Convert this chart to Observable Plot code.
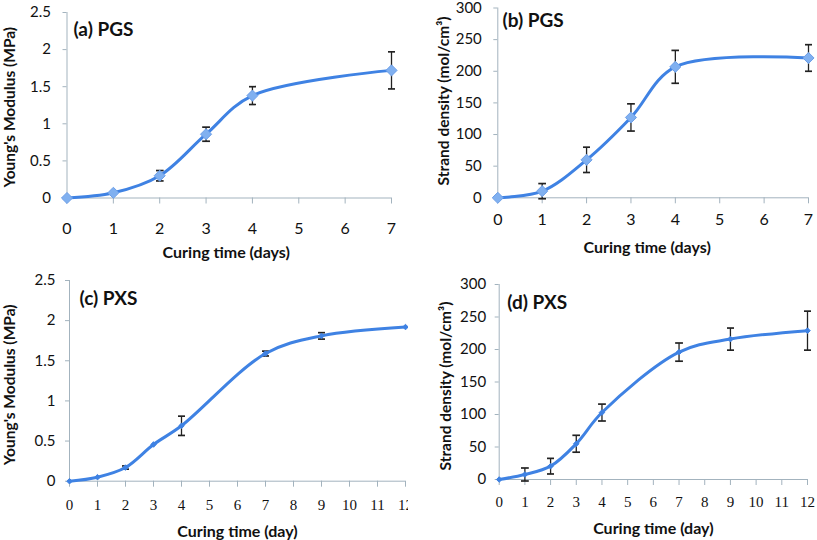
<!DOCTYPE html>
<html>
<head>
<meta charset="utf-8">
<script src="https://cdn.jsdelivr.net/npm/d3@7"></script>
<script src="https://cdn.jsdelivr.net/npm/@observablehq/plot@0.6"></script>
<style>
  html, body { margin: 0; padding: 0; background: #fff; }
  #wrap { position: relative; width: 817px; height: 540px; overflow: hidden; background: #fff; }
  #wrap > svg { position: absolute; background: transparent; }
</style>
</head>
<body>
<div id="wrap"></div>
<script>
// ---- data ----
const daysPGS = [0, 1, 2, 3, 4, 7];
const modulusPGS = [0, 0.07, 0.30, 0.86, 1.38, 1.72];
const modulusPGSErr = [0, 0, 0.07, 0.095, 0.12, 0.25];
const strandPGS = [0, 10.5, 60, 127, 207, 221];
const strandPGSErr = [0, 12, 20, 21.5, 26, 21];

const daysPXS = [0, 1, 2, 3, 4, 7, 9, 12];
const modulusPXS = [0, 0.05, 0.17, 0.457, 0.69, 1.59, 1.81, 1.92];
const modulusPXSErr = [0, 0, 0.02, 0, 0.12, 0.03, 0.04, 0];
const strandPXS = [0, 7.7, 20.5, 55, 103, 196, 216, 229];
const strandPXSErr = [0, 10, 12, 13, 13, 14, 17, 30];

const xTicksPGS = [0, 1, 2, 3, 4, 5, 6, 7];
const xTicksPXS = [0, 1, 2, 3, 4, 5, 6, 7, 8, 9, 10, 11, 12];
const yTicksModulus = [0, 0.5, 1, 1.5, 2, 2.5];
const yTicksStrand = [0, 50, 100, 150, 200, 250, 300];

const panelLabels = ["(a) PGS", "(b) PGS", "(c) PXS", "(d) PXS"];
const yTitleModulus = "Young's Modulus (MPa)";
const yTitleStrand = "Strand density (mol/cm\u00B3)";
const xTitleDays = "Curing time (days)";
const xTitleDay = "Curing time (day)";

// ---- styling ----
const SANS = "Lato, 'Open Sans', sans-serif";
const SERIF = "'Liberation Serif', 'DejaVu Serif', serif";
const AXIS = "#a3b3be";
const LINE = "#3f82e3";
const MARK = "#80b0f0";

function rows(xs, ys, es) {
  return xs.map((x, i) => ({x, y: ys[i], e: es[i]}));
}

function panel(cfg) {
  const data = rows(cfg.xs, cfg.ys, cfg.es);
  const errs = data.filter(d => d.e > 0);
  const svg = Plot.plot({
    width: cfg.width, height: cfg.height,
    marginLeft: cfg.ml, marginRight: cfg.mr, marginTop: cfg.mt, marginBottom: cfg.mb,
    style: {fontFamily: SANS, background: "transparent", overflow: cfg.clip ? "hidden" : "visible"},
    x: {domain: [cfg.xTicks[0], cfg.xTicks[cfg.xTicks.length - 1]]},
    y: {domain: [cfg.yTicks[0], cfg.yTicks[cfg.yTicks.length - 1]]},
    marks: [
      Plot.axisY({ticks: cfg.yTicks, tickSize: 4, tickPadding: cfg.yPad, stroke: AXIS, fill: "#111",
        fontSize: 15, fontFamily: SANS, tickFormat: d => String(d), label: null}),
      Plot.axisX({ticks: cfg.xTicks, tickSize: 6, tickPadding: cfg.xPad, stroke: AXIS, fill: "#111",
        fontSize: cfg.xFontSize, fontFamily: cfg.xFont, tickFormat: d => String(d), label: null}),
      Plot.ruleX([cfg.xTicks[0]], {stroke: AXIS, strokeWidth: 1}),
      Plot.ruleY([cfg.yTicks[0]], {stroke: AXIS, strokeWidth: 1}),
      Plot.link(errs, {x1: "x", x2: "x", y1: d => d.y - d.e, y2: d => d.y + d.e,
        stroke: "#222", strokeWidth: 1.3, marker: "tick"}),
      Plot.line(data, {x: "x", y: "y", curve: "catmull-rom", stroke: LINE, strokeWidth: 3}),
      Plot.dot(data, {x: "x", y: "y", symbol: "diamond2", r: cfg.r, fill: cfg.big ? MARK : LINE,
        stroke: cfg.big ? "#6d9fe8" : LINE, strokeWidth: 1}),
      Plot.text([cfg.label], {frameAnchor: "top-left", dx: cfg.lx, dy: cfg.ly, textAnchor: "start",
        lineAnchor: "middle", fontWeight: "bold", fontSize: 19, fontFamily: SANS, fill: "#111"}),
      Plot.text([cfg.yTitle], {frameAnchor: "left", rotate: -90, dx: cfg.ytx, dy: cfg.yty,
        textAnchor: "middle", lineAnchor: "middle",
        fontWeight: "bold", fontSize: 15.5, fontFamily: SANS, fill: "#111"}),
      Plot.text([cfg.xTitle], {frameAnchor: "bottom", dx: cfg.xtx, dy: cfg.xty,
        textAnchor: "middle", lineAnchor: "middle",
        fontWeight: "bold", fontSize: 16, fontFamily: SANS, fill: "#111"})
    ]
  });
  svg.style.left = cfg.left + "px";
  svg.style.top = cfg.top + "px";
  document.getElementById("wrap").appendChild(svg);
}

panel({left: 0, top: 0, width: 408, height: 270, ml: 66.5, mr: 17, mt: 12, mb: 72.5,
  xs: daysPGS, ys: modulusPGS, es: modulusPGSErr, xTicks: xTicksPGS, yTicks: yTicksModulus,
  yPad: 12, xPad: 19, xFont: SANS, xFontSize: 16, r: 5, big: true, clip: false,
  label: panelLabels[0], lx: 6.5, ly: 17,
  yTitle: yTitleModulus, ytx: -56.5, yty: 2,
  xTitle: xTitleDays, xtx: -3, xty: 54.5});

panel({left: 408, top: 0, width: 409, height: 270, ml: 89.3, mr: 9, mt: 7.5, mb: 72.7,
  xs: daysPGS, ys: strandPGS, es: strandPGSErr, xTicks: xTicksPGS, yTicks: yTicksStrand,
  yPad: 12, xPad: 10, xFont: SANS, xFontSize: 16, r: 5, big: true, clip: false,
  label: panelLabels[1], lx: 4.7, ly: 12.5,
  yTitle: yTitleStrand, ytx: -54, yty: -2,
  xTitle: xTitleDays, xtx: -6, xty: 50});

panel({left: 0, top: 270, width: 408, height: 270, ml: 69, mr: 3, mt: 10, mb: 59.3,
  xs: daysPXS, ys: modulusPXS, es: modulusPXSErr, xTicks: xTicksPXS, yTicks: yTicksModulus,
  yPad: 10, xPad: 12, xFont: SERIF, xFontSize: 15, r: 2.5, big: false, clip: true,
  label: panelLabels[2], lx: 10, ly: 18,
  yTitle: yTitleModulus, ytx: -59, yty: 4,
  xTitle: xTitleDay, xtx: 0, xty: 51});

panel({left: 408, top: 270, width: 409, height: 270, ml: 90.7, mr: 10, mt: 14, mb: 61,
  xs: daysPXS, ys: strandPXS, es: strandPXSErr, xTicks: xTicksPXS, yTicks: yTicksStrand,
  yPad: 9, xPad: 11, xFont: SERIF, xFontSize: 15, r: 2.5, big: false, clip: false,
  label: panelLabels[3], lx: 8, ly: 18,
  yTitle: yTitleStrand, ytx: -52.7, yty: 4,
  xTitle: xTitleDay, xtx: 0, xty: 49});
</script>
</body>
</html>
